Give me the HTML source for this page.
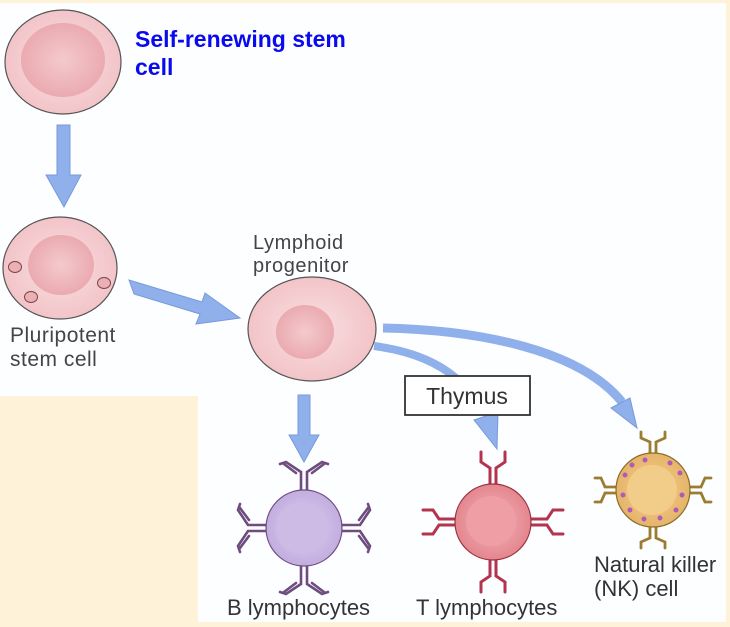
<!DOCTYPE html>
<html><head><meta charset="utf-8"><style>
html,body{margin:0;padding:0;background:#fef3d8;}
svg{display:block}
text{font-family:"Liberation Sans",sans-serif}
</style></head><body>
<svg width="730" height="627" viewBox="0 0 730 627" xmlns="http://www.w3.org/2000/svg">
<defs>
<radialGradient id="pk" cx="50%" cy="50%" r="50%"><stop offset="0" stop-color="#f9e0e2"/><stop offset="1" stop-color="#f2c4c8"/></radialGradient>
<radialGradient id="pkn" cx="50%" cy="50%" r="50%"><stop offset="0" stop-color="#f4cacd"/><stop offset="1" stop-color="#eaaab0"/></radialGradient>
<radialGradient id="pu" cx="50%" cy="50%" r="50%"><stop offset="0" stop-color="#ddd0ee"/><stop offset="1" stop-color="#c2ade0"/></radialGradient>
<radialGradient id="tn" cx="50%" cy="50%" r="50%"><stop offset="0" stop-color="#f8cf8c"/><stop offset="1" stop-color="#e4b46a"/></radialGradient>
<radialGradient id="rd" cx="50%" cy="50%" r="50%"><stop offset="0" stop-color="#f4b4b8"/><stop offset="1" stop-color="#e4868e"/></radialGradient>
</defs>
<rect x="0" y="0" width="730" height="627" fill="#fef3d8"/>
<rect x="0" y="3" width="726" height="619" fill="#fdfeff"/>
<rect x="0" y="396" width="198" height="231" fill="#fef3d8"/>

<!-- top cell -->
<ellipse cx="63" cy="62" rx="58" ry="52" fill="url(#pk)" stroke="#555" stroke-width="1.2"/>
<ellipse cx="63" cy="60" rx="42" ry="37" fill="url(#pkn)"/>
<text x="135" y="47" font-size="23" font-weight="bold" fill="#0a0aee">Self-renewing stem</text>
<text x="135" y="75" font-size="23" font-weight="bold" fill="#0a0aee">cell</text>

<!-- arrow down -->
<polygon points="57,125 70,125 70,175 81,175 64,207 46,175 57,175" fill="#8fb0ea" stroke="#7899dc" stroke-width="1"/>

<!-- pluripotent -->
<ellipse cx="60" cy="268" rx="57" ry="51" fill="url(#pk)" stroke="#555" stroke-width="1.2"/>
<ellipse cx="61" cy="265" rx="33" ry="30" fill="url(#pkn)"/>
<ellipse cx="15" cy="267" rx="6.5" ry="5.5" fill="#eab0b4" stroke="#7a4448" stroke-width="1"/>
<ellipse cx="31" cy="297" rx="6.5" ry="5.5" fill="#eab0b4" stroke="#7a4448" stroke-width="1"/>
<ellipse cx="104" cy="283" rx="6.5" ry="5.5" fill="#eab0b4" stroke="#7a4448" stroke-width="1"/>
<text x="10" y="342" font-size="21" fill="#444" letter-spacing="0.5">Pluripotent</text>
<text x="10" y="366" font-size="21" fill="#444" letter-spacing="0.5">stem cell</text>

<!-- arrow to lymphoid -->
<polygon points="129,280 134,294 200,314 196,324 240,318 205,293 202,302" fill="#8fb0ea" stroke="#7899dc" stroke-width="1"/>

<!-- lymphoid progenitor -->
<text x="253" y="249" font-size="20" fill="#444" letter-spacing="0.6">Lymphoid</text>
<text x="253" y="272" font-size="20" fill="#444" letter-spacing="0.6">progenitor</text>
<ellipse cx="312" cy="329" rx="64" ry="52" fill="url(#pk)" stroke="#555" stroke-width="1.2"/>
<ellipse cx="305" cy="332" rx="29" ry="27" fill="url(#pkn)"/>

<!-- arrow to B -->
<polygon points="298,395 310,395 310,435 319,435 304,462 289,435 298,435" fill="#8fb0ea" stroke="#7899dc" stroke-width="1"/>

<!-- curved arrow to T -->
<path d="M374,346 C420,352 462,370 482,412" fill="none" stroke="#8fb0ea" stroke-width="8"/>
<polygon points="474,420 498,412 497,449" fill="#8fb0ea" stroke="#7899dc" stroke-width="1"/>
<!-- curved arrow to NK -->
<path d="M383,328 C480,330 580,350 622,402" fill="none" stroke="#8fb0ea" stroke-width="9"/>
<polygon points="611,408 630,398 637,428" fill="#8fb0ea" stroke="#7899dc" stroke-width="1"/>

<!-- thymus box -->
<rect x="405" y="376" width="125" height="39" fill="#fff" stroke="#333" stroke-width="1.8"/>
<text x="467" y="404" font-size="23" fill="#333" text-anchor="middle">Thymus</text>

<!-- B cell -->
<g stroke="#6e4c80" stroke-width="2.6" fill="none" stroke-linecap="round">
<g transform="translate(304,528)"><path d="M-3,-38 V-56 L-18,-66 L-24,-64 M-8,-55 L-20,-64 M3,-38 V-56 L18,-66 L24,-64 M8,-55 L20,-64"/></g>
<g transform="translate(304,528) rotate(90)"><path d="M-3,-38 V-56 L-18,-66 L-24,-64 M-8,-55 L-20,-64 M3,-38 V-56 L18,-66 L24,-64 M8,-55 L20,-64"/></g>
<g transform="translate(304,528) rotate(180)"><path d="M-3,-38 V-56 L-18,-66 L-24,-64 M-8,-55 L-20,-64 M3,-38 V-56 L18,-66 L24,-64 M8,-55 L20,-64"/></g>
<g transform="translate(304,528) rotate(270)"><path d="M-3,-38 V-56 L-18,-66 L-24,-64 M-8,-55 L-20,-64 M3,-38 V-56 L18,-66 L24,-64 M8,-55 L20,-64"/></g>
</g>
<circle cx="304" cy="528" r="38" fill="url(#pu)" stroke="#6e4c80" stroke-width="1.2"/>
<circle cx="302" cy="528" r="26" fill="#cdbbe6"/>

<!-- T cell -->
<g stroke="#b4344e" stroke-width="3" fill="none" stroke-linecap="round">
<g transform="translate(493,522)"><path d="M-3,-38 V-54 L-12,-60 V-70 M3,-38 V-54 L12,-60 V-70"/></g>
<g transform="translate(493,522) rotate(90)"><path d="M-3,-38 V-54 L-12,-60 V-70 M3,-38 V-54 L12,-60 V-70"/></g>
<g transform="translate(493,522) rotate(180)"><path d="M-3,-38 V-54 L-12,-60 V-70 M3,-38 V-54 L12,-60 V-70"/></g>
<g transform="translate(493,522) rotate(270)"><path d="M-3,-38 V-54 L-12,-60 V-70 M3,-38 V-54 L12,-60 V-70"/></g>
</g>
<circle cx="493" cy="522" r="38" fill="url(#rd)" stroke="#9a3040" stroke-width="1.2"/>
<circle cx="491" cy="521" r="25" fill="#ef9ea6"/>

<!-- NK cell -->
<g stroke="#9c7c30" stroke-width="2.8" fill="none" stroke-linecap="round">
<g transform="translate(653,490)"><path d="M-3,-36 V-48 L-12,-52 V-58 M3,-36 V-48 L12,-52 V-58"/></g>
<g transform="translate(653,490) rotate(90)"><path d="M-3,-36 V-48 L-12,-52 V-58 M3,-36 V-48 L12,-52 V-58"/></g>
<g transform="translate(653,490) rotate(180)"><path d="M-3,-36 V-48 L-12,-52 V-58 M3,-36 V-48 L12,-52 V-58"/></g>
<g transform="translate(653,490) rotate(270)"><path d="M-3,-36 V-48 L-12,-52 V-58 M3,-36 V-48 L12,-52 V-58"/></g>
</g>
<circle cx="653" cy="490" r="37" fill="url(#tn)" stroke="#8c6c28" stroke-width="1.2"/>
<circle cx="652" cy="490" r="25" fill="#f2cd8a"/>
<g fill="#b05ab8">
<circle cx="625" cy="475" r="2.5"/><circle cx="632" cy="465" r="2.5"/><circle cx="645" cy="460" r="2.5"/><circle cx="670" cy="463" r="2.5"/><circle cx="680" cy="473" r="2.5"/><circle cx="682" cy="495" r="2.5"/><circle cx="676" cy="510" r="2.5"/><circle cx="660" cy="518" r="2.5"/><circle cx="644" cy="519" r="2.5"/><circle cx="630" cy="510" r="2.5"/><circle cx="623" cy="495" r="2.5"/>
</g>

<text x="227" y="615" font-size="22" fill="#333">B lymphocytes</text>
<text x="416" y="615" font-size="22" fill="#333">T lymphocytes</text>
<text x="594" y="572" font-size="22" fill="#333">Natural killer</text>
<text x="594" y="596" font-size="22" fill="#333">(NK) cell</text>
</svg>
</body></html>
